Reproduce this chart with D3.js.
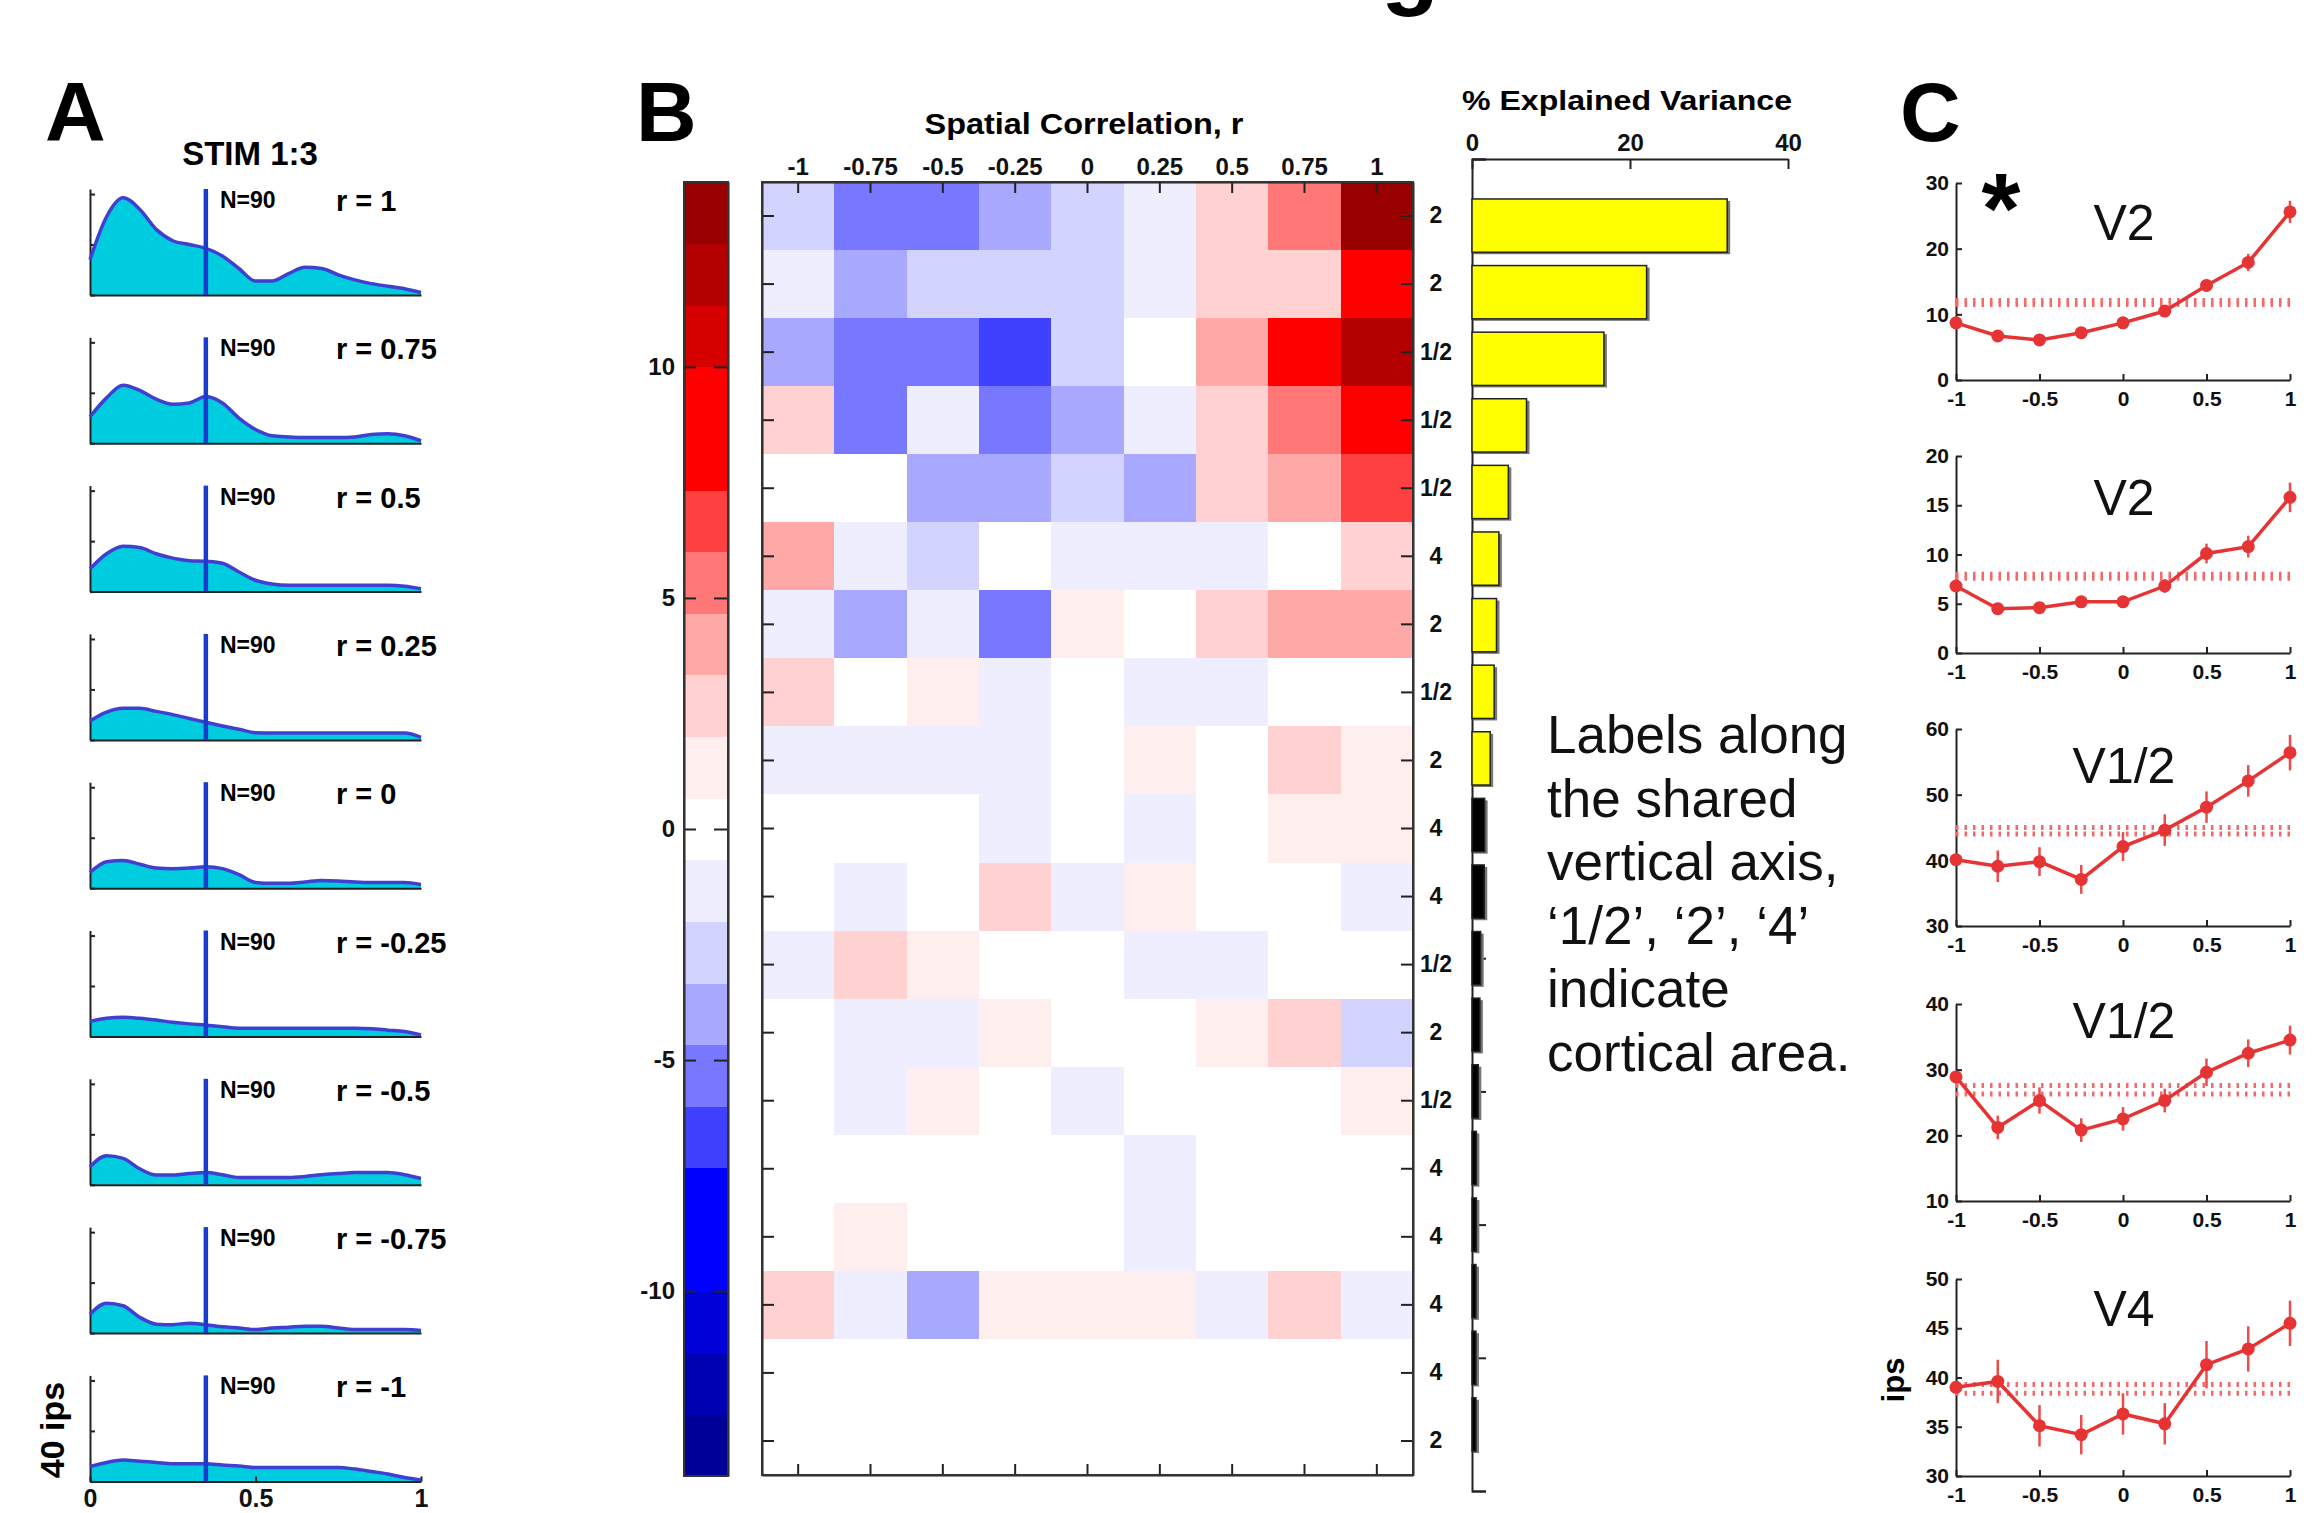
<!DOCTYPE html>
<html>
<head>
<meta charset="utf-8">
<script src="https://cdn.jsdelivr.net/npm/d3@7"></script>
<style>
body { margin: 0; background: #fff; }
svg { display: block; font-family: "Liberation Sans", Arial, sans-serif; }
</style>
</head>
<body>
<div id="fig"></div>
<script>
// ---------- panel A : firing-rate densities for each spatial correlation ----------
var densityX = [0, 0.05, 0.1, 0.15, 0.2, 0.25, 0.3, 0.35, 0.4, 0.45, 0.5, 0.55, 0.6, 0.65, 0.7, 0.75, 0.8, 0.85, 0.9, 0.95, 1];
var dens_r100  = [28, 62, 77, 68, 52, 43, 40, 37, 31, 21, 11, 11, 17, 22, 21, 16, 12, 9, 7, 5, 2];
var dens_r075  = [21, 36, 46, 42, 35, 31, 32, 37, 32, 20, 11, 6, 5, 4.5, 4.5, 4.5, 5, 7, 7.5, 6, 2];
var dens_r050  = [18, 30, 36, 35, 30, 26.5, 24.5, 24, 22.5, 15.5, 9, 6, 5, 5, 5, 5, 5, 5, 5, 4.3, 2.3];
var dens_r025  = [15, 22, 25, 25, 22.6, 20, 17, 14, 11, 8.4, 5.7, 5.4, 5.4, 5.4, 5.4, 5.4, 5.4, 5.4, 5.4, 5.4, 2];
var dens_r000  = [12.4, 21, 22, 19, 16, 15.5, 16, 17, 15.5, 10.8, 4.6, 3.9, 3.9, 5, 6.2, 5.8, 5, 4.6, 4.6, 4.6, 3];
var dens_rm025 = [12, 14.4, 15.2, 14.4, 13, 11.3, 10, 9, 7.8, 6.6, 6.6, 6.6, 6.6, 6.6, 6.6, 6.6, 6.6, 6.2, 5, 3.9, 1.2];
var dens_rm050 = [14.3, 23, 21, 12.7, 7.7, 7.7, 8.9, 9.7, 8, 5.8, 5.8, 5.8, 5.8, 6.6, 8, 8.9, 9.7, 9.7, 9.7, 8, 5];
var dens_rm075 = [15, 23.7, 21.7, 12.6, 7.1, 6.7, 7.9, 6.7, 5, 4, 2.8, 4, 4.7, 5.5, 5.5, 4, 2.8, 2.8, 2.8, 2.8, 2];
var dens_rm100 = [11.8, 15, 17, 16, 15, 14, 14, 14, 13, 12.2, 11, 11, 11, 11, 11, 11, 9.8, 7.9, 5.9, 3.1, 1.2];
var densities = [dens_r100, dens_r075, dens_r050, dens_r025, dens_r000, dens_rm025, dens_rm050, dens_rm075, dens_rm100];
var densLabels = ["r = 1", "r = 0.75", "r = 0.5", "r = 0.25", "r = 0", "r = -0.25", "r = -0.5", "r = -0.75", "r = -1"];
var densN = "N=90";
var medianMark = 0.35;
var densYTicks = [0, 40, 80];
var densXTicks = [0, 0.5, 1];
var densXTickLabels = ["0", "0.5", "1"];

// ---------- panel B : heat map + explained variance ----------
var corrR = [-1, -0.75, -0.5, -0.25, 0, 0.25, 0.5, 0.75, 1];
var corrLabels = ["-1", "-0.75", "-0.5", "-0.25", "0", "0.25", "0.5", "0.75", "1"];
var rowAreas = ["2", "2", "1/2", "1/2", "1/2", "4", "2", "1/2", "2", "4", "4", "1/2", "2", "1/2", "4", "4", "4", "4", "2"];
var heatRows = [
  [-2.7, -5.4, -5.2, -4.1, -2.6, -1.2, 2.6, 5.3, 13.4],
  [-1.1, -4.0, -2.8, -2.5, -2.7, -1.3, 2.5, 2.7, 9.1],
  [-3.9, -5.3, -5.5, -6.8, -2.6, 0.2, 4.1, 9.0, 12.1],
  [2.6, -5.4, -1.2, -5.6, -3.9, -1.1, 2.7, 5.4, 8.8],
  [0.1, -0.2, -4.0, -4.1, -2.7, -3.8, 2.6, 4.0, 6.6],
  [4.0, -1.2, -2.6, 0.3, -1.1, -1.3, -1.0, 0.1, 2.5],
  [-1.1, -3.9, -1.2, -5.5, 1.1, 0.2, 2.7, 4.1, 3.9],
  [2.6, 0.1, 1.2, -1.0, 0.0, -1.2, -1.1, 0.2, -0.1],
  [-1.2, -1.1, -1.3, -1.0, 0.2, 1.1, 0.3, 2.6, 1.2],
  [0.1, -0.2, 0.3, -1.2, 0.0, -1.1, 0.2, 1.1, 1.3],
  [-0.1, -1.0, 0.2, 2.6, -1.3, 1.2, 0.1, -0.3, -1.1],
  [-1.2, 2.7, 1.1, 0.2, -0.1, -1.0, -1.2, 0.3, 0.1],
  [0.2, -1.1, -1.2, 1.0, 0.1, -0.2, 1.1, 2.6, -2.6],
  [0.0, -1.3, 1.2, 0.4, -1.1, 0.1, -0.2, 0.3, 1.0],
  [0.1, 0.2, -0.3, 0.0, 0.2, -1.1, 0.4, -0.2, 0.3],
  [-0.2, 1.2, 0.1, -0.1, 0.3, -1.0, 0.2, 0.0, -0.4],
  [2.7, -1.2, -3.9, 1.1, 1.2, 1.0, -1.1, 2.6, -1.2],
  [0.1, -0.2, 0.3, 0.0, -0.1, 0.2, -0.3, 0.1, 0.0],
  [0.0, 0.2, -0.1, 0.3, 0.1, -0.2, 0.0, -0.4, 0.2]
];
var cbarColors = ["#000099", "#0000b3", "#0000d9", "#0000ff", "#0000ff", "#4040ff", "#7777ff", "#a8a8ff",
  "#d3d3ff", "#eeeeff", "#ffffff", "#ffeeee", "#ffd1d1", "#ffa8a8", "#ff7777", "#ff4040", "#ff0000",
  "#ff0000", "#d60000", "#b30000", "#990000"];
var cbarRange = [-14, 14];
var cbarTicks = [-10, -5, 0, 5, 10];
var explainedVar = [32.3, 22.1, 16.7, 6.9, 4.6, 3.4, 3.1, 2.8, 2.3, 1.6, 1.55, 1.1, 1.0, 0.8, 0.55, 0.55, 0.5, 0.5, 0.5];
var varSignificant = [true, true, true, true, true, true, true, true, true,
  false, false, false, false, false, false, false, false, false, false];
var varTicks = [0, 20, 40];
var noteLines = ["Labels along", "the shared", "vertical axis,", "\u20181/2\u2019, \u20182\u2019, \u20184\u2019", "indicate", "cortical area."];

// ---------- panel C : tuning curves ----------
var tuneX = [-1, -0.75, -0.5, -0.25, 0, 0.25, 0.5, 0.75, 1];
var tuneTitles = ["V2", "V2", "V1/2", "V1/2", "V4"];
var tune_v2a  = [8.7, 6.7, 6.1, 7.2, 8.7, 10.5, 14.4, 17.9, 25.6];
var tune_v2b  = [6.8, 4.5, 4.6, 5.2, 5.2, 6.8, 10.1, 10.8, 15.8];
var tune_v12a = [40.1, 39.1, 39.8, 37.1, 42.1, 44.6, 48.1, 52.1, 56.4];
var tune_v12b = [28.9, 21.2, 25.3, 20.8, 22.5, 25.3, 29.6, 32.5, 34.5];
var tune_v4   = [39.0, 39.6, 35.1, 34.2, 36.3, 35.3, 41.3, 42.9, 45.5];
var err_v2a  = [0.6, 0.6, 0.5, 0.6, 0.6, 0.7, 0.9, 1.3, 1.7];
var err_v2b  = [0.5, 0.5, 0.5, 0.5, 0.5, 0.7, 1.0, 1.1, 1.5];
var err_v12a = [0.8, 2.4, 2.2, 2.2, 2.2, 2.4, 2.4, 2.4, 2.7];
var err_v12b = [0.8, 1.8, 2.0, 1.8, 1.8, 1.8, 2.1, 2.1, 2.2];
var err_v4   = [0.5, 2.2, 2.1, 2.0, 2.1, 2.1, 2.4, 2.3, 2.3];
var shuffleBand = [[11.5, 12.1], [7.6, 8.0], [44.0, 45.0], [26.3, 27.6], [38.4, 39.3]];
var tuneDomains = [[0, 30], [0, 20], [30, 60], [10, 40], [30, 50]];
var tuneYTicks = [[0, 10, 20, 30], [0, 5, 10, 15, 20], [30, 40, 50, 60], [10, 20, 30, 40], [30, 35, 40, 45, 50]];
var tuneXTicks = [-1, -0.5, 0, 0.5, 1];
var tuneXTickLabels = ["-1", "-0.5", "0", "0.5", "1"];
var tuneMeans = [tune_v2a, tune_v2b, tune_v12a, tune_v12b, tune_v4];
var tuneErrs = [err_v2a, err_v2b, err_v12a, err_v12b, err_v4];

var W = 2315, H = 1513;
var svg = d3.select("#fig").append("svg").attr("width", W).attr("height", H);
svg.append("rect").attr("width", W).attr("height", H).attr("fill", "#fff");

function styleAxis(g, size) {
  g.attr("font-family", null).attr("font-size", size).attr("font-weight", "bold");
  g.selectAll("path, line").attr("stroke", "#222").attr("stroke-width", 2);
  g.selectAll("text").attr("fill", "#111");
  return g;
}

// cut-off figure title at the very top
svg.append("text").attr("x", 1410).attr("y", -3).attr("text-anchor", "middle")
  .attr("font-size", 95).attr("font-weight", "bold").text("g");

// panel letters
[["A", 45], ["B", 636], ["C", 1900]].forEach(function (p) {
  svg.append("text").attr("x", p[1]).attr("y", 141).attr("font-size", 84)
    .attr("font-weight", "bold").text(p[0]);
});

// ================= panel A =================
var aLeft = 90, aRight = 421, aTop0 = 189, aStep = 148.3, aH = 106;
var xA = d3.scaleLinear().domain([0, 1]).range([aLeft, aRight]);

svg.append("text").attr("x", 250).attr("y", 165).attr("text-anchor", "middle")
  .attr("font-size", 33).attr("font-weight", "bold").text("STIM 1:3");

densities.forEach(function (vals, i) {
  var top = aTop0 + i * aStep;
  var yA = d3.scaleLinear().domain([0, 84]).range([top + aH, top]);
  var g = svg.append("g");
  var pts = densityX.map(function (x, j) { return [x, vals[j]]; });

  g.append("path")
    .attr("d", d3.area().x(function (d) { return xA(d[0]); }).y0(yA(0))
      .y1(function (d) { return yA(d[1]); }).curve(d3.curveMonotoneX)(pts))
    .attr("fill", "#00cce0");

  styleAxis(g.append("g").attr("transform", "translate(" + aLeft + ",0)")
    .call(d3.axisLeft(yA).tickValues(densYTicks).tickSize(-5).tickSizeOuter(0).tickFormat("")), 10);
  var bottom = g.append("g").attr("transform", "translate(0," + (top + aH) + ")");
  if (i == densities.length - 1) {
    bottom.call(d3.axisBottom(xA).tickValues(densXTicks).tickSize(-5).tickSizeOuter(0).tickPadding(8)
      .tickFormat(function (d, k) { return densXTickLabels[k]; }));
    styleAxis(bottom, 25);
  } else {
    bottom.call(d3.axisBottom(xA).tickValues([]).tickSizeOuter(0));
    styleAxis(bottom, 10);
  }

  g.append("path")
    .attr("d", d3.line().x(function (d) { return xA(d[0]); }).y(function (d) { return yA(d[1]); })
      .curve(d3.curveMonotoneX)(pts))
    .attr("fill", "none").attr("stroke", "#3f3fd0").attr("stroke-width", 3.5);

  g.append("line").attr("x1", xA(medianMark)).attr("x2", xA(medianMark))
    .attr("y1", top).attr("y2", top + aH)
    .attr("stroke", "#1a3ccc").attr("stroke-width", 4.5);

  g.append("text").attr("x", 220).attr("y", top + 19).attr("font-size", 23)
    .attr("font-weight", "bold").text(densN);
  g.append("text").attr("x", 336).attr("y", top + 22).attr("font-size", 29)
    .attr("font-weight", "bold").text(densLabels[i]);
});

svg.append("text").attr("transform", "translate(64,1430) rotate(-90)")
  .attr("text-anchor", "middle").attr("font-size", 34).attr("font-weight", "bold").text("40 ips");

// ================= panel B : colour bar =================
var cbL = 684, cbR = 728, cbT = 182, cbB = 1476;
var yC = d3.scaleLinear().domain(cbarRange).range([cbB, cbT]);
var binW = (cbarRange[1] - cbarRange[0]) / cbarColors.length;
var colour = d3.scaleQuantize().domain(cbarRange).range(cbarColors);

svg.append("g").selectAll("rect").data(cbarColors).enter().append("rect")
  .attr("x", cbL).attr("width", cbR - cbL)
  .attr("y", function (d, k) { return yC(cbarRange[0] + (k + 1) * binW); })
  .attr("height", function (d, k) { return yC(cbarRange[0] + k * binW) - yC(cbarRange[0] + (k + 1) * binW) + 0.5; })
  .attr("fill", function (d) { return d; })
  .attr("shape-rendering", "crispEdges");
styleAxis(svg.append("g").attr("transform", "translate(" + cbL + ",0)")
  .call(d3.axisLeft(yC).tickValues(cbarTicks).tickSize(-12).tickSizeOuter(0).tickPadding(9)
    .tickFormat(function (d) { return String(d); })), 24);
styleAxis(svg.append("g").attr("transform", "translate(" + cbR + ",0)")
  .call(d3.axisRight(yC).tickValues(cbarTicks).tickSize(-14).tickSizeOuter(0).tickFormat("")), 10);
svg.append("rect").attr("x", cbL).attr("y", cbT).attr("width", cbR - cbL).attr("height", cbB - cbT)
  .attr("fill", "none").attr("stroke", "#333").attr("stroke-width", 2);

// ================= panel B : heat map =================
var hL = 762, hR = 1413, hT = 182, hB = 1475;
var xB = d3.scaleBand().domain(corrR).range([hL, hR]);
var yB = d3.scaleBand().domain(rowAreas.map(function (d, i) { return i; })).range([hT, hB]);

var cells = [];
heatRows.forEach(function (row, i) {
  row.forEach(function (v, j) { cells.push({ row: i, r: corrR[j], v: v }); });
});
svg.append("g").selectAll("rect").data(cells).enter().append("rect")
  .attr("x", function (d) { return xB(d.r); }).attr("y", function (d) { return yB(d.row); })
  .attr("width", xB.bandwidth() + 0.6).attr("height", yB.bandwidth() + 0.6)
  .attr("fill", function (d) { return colour(d.v); })
  .attr("shape-rendering", "crispEdges");

styleAxis(svg.append("g").attr("transform", "translate(0," + hT + ")")
  .call(d3.axisTop(xB).tickSize(-11).tickSizeOuter(0).tickPadding(7)
    .tickFormat(function (d, k) { return corrLabels[k]; })), 24);
styleAxis(svg.append("g").attr("transform", "translate(0," + hB + ")")
  .call(d3.axisBottom(xB).tickSize(-11).tickSizeOuter(0).tickFormat("")), 10);
styleAxis(svg.append("g").attr("transform", "translate(" + hL + ",0)")
  .call(d3.axisLeft(yB).tickSize(-12).tickSizeOuter(0).tickFormat("")), 10);
var rightAx = styleAxis(svg.append("g").attr("transform", "translate(" + hR + ",0)")
  .call(d3.axisRight(yB).tickSize(-12).tickSizeOuter(0).tickFormat(function (i) { return rowAreas[i]; })), 23);
rightAx.selectAll("text").attr("x", 23).attr("text-anchor", "middle");
svg.append("rect").attr("x", hL).attr("y", hT).attr("width", hR - hL).attr("height", hB - hT)
  .attr("fill", "none").attr("stroke", "#333").attr("stroke-width", 2);

svg.append("text").attr("x", 1084).attr("y", 134).attr("text-anchor", "middle")
  .attr("font-size", 30).attr("font-weight", "bold")
  .attr("textLength", 319).attr("lengthAdjust", "spacingAndGlyphs")
  .text("Spatial Correlation, r");

// ================= panel B : explained variance =================
var vL = 1472, vT = 159, vB = 1491;
var xV = d3.scaleLinear().domain([0, 40]).range([vL, 1788]);
var yV = d3.scaleLinear().domain([0, explainedVar.length + 1]).range([vT, vB]);
var barH = (yV(1) - yV(0)) * 0.8;

styleAxis(svg.append("g").attr("transform", "translate(" + vL + ",0)")
  .call(d3.axisLeft(yV).tickValues(d3.range(0, explainedVar.length + 2, 2)).tickSize(-14).tickSizeOuter(-14).tickFormat("")), 10);
styleAxis(svg.append("g").attr("transform", "translate(0," + vT + ")")
  .call(d3.axisTop(xV).tickValues(varTicks).tickSize(-10).tickSizeOuter(0).tickPadding(8)
    .tickFormat(function (d) { return String(d); })), 24);

var bars = svg.append("g").selectAll("g").data(explainedVar).enter().append("g");
bars.append("rect")
  .attr("x", vL + 1).attr("y", function (d, i) { return yV(i + 1) - barH / 2 + 2; })
  .attr("width", function (d) { return xV(d) - vL + 2; }).attr("height", barH)
  .attr("fill", "#777");
bars.append("rect")
  .attr("x", vL).attr("y", function (d, i) { return yV(i + 1) - barH / 2; })
  .attr("width", function (d) { return xV(d) - vL; }).attr("height", barH)
  .attr("fill", function (d, i) { return varSignificant[i] ? "#ffff00" : "#000"; })
  .attr("stroke", "#222").attr("stroke-width", 1.5);

svg.append("text").attr("x", 1627).attr("y", 110).attr("text-anchor", "middle")
  .attr("font-size", 28).attr("font-weight", "bold")
  .attr("textLength", 330).attr("lengthAdjust", "spacingAndGlyphs")
  .text("% Explained Variance");

svg.append("g").selectAll("text").data(noteLines).enter().append("text")
  .attr("x", 1547).attr("y", function (d, i) { return 753 + i * 63.5; })
  .attr("font-size", 53).attr("fill", "#111").text(function (d) { return d; });

// ================= panel C =================
var xCt = d3.scaleLinear().domain([-1, 1]).range([1956, 2290]);
var cTops = [183, 456, 729, 1004, 1279];
var cH = 197;
var titleDy = [57, 59, 54, 34, 47];

tuneMeans.forEach(function (vals, p) {
  var top = cTops[p];
  var yT = d3.scaleLinear().domain(tuneDomains[p]).range([top + cH, top]);
  var g = svg.append("g");

  styleAxis(g.append("g").attr("transform", "translate(" + xCt(-1) + ",0)")
    .call(d3.axisLeft(yT).tickValues(tuneYTicks[p]).tickSize(-6).tickSizeOuter(0).tickPadding(7)
      .tickFormat(function (d) { return String(d); })), 21);
  styleAxis(g.append("g").attr("transform", "translate(0," + (top + cH) + ")")
    .call(d3.axisBottom(xCt).tickValues(tuneXTicks).tickSize(-6).tickSizeOuter(0).tickPadding(11)
      .tickFormat(function (d, k) { return tuneXTickLabels[k]; })), 21);

  shuffleBand[p].forEach(function (b) {
    g.append("line").attr("x1", xCt(-1)).attr("x2", xCt(1)).attr("y1", yT(b)).attr("y2", yT(b))
      .attr("stroke", "#f26a6a").attr("stroke-width", 5).attr("stroke-dasharray", "2.5,6");
  });

  g.selectAll(".eb").data(vals).enter().append("line")
    .attr("x1", function (d, k) { return xCt(tuneX[k]); }).attr("x2", function (d, k) { return xCt(tuneX[k]); })
    .attr("y1", function (d, k) { return yT(d - tuneErrs[p][k]); })
    .attr("y2", function (d, k) { return yT(d + tuneErrs[p][k]); })
    .attr("stroke", "#ee4b4b").attr("stroke-width", 2.5);

  g.append("path")
    .attr("d", d3.line().x(function (d, k) { return xCt(tuneX[k]); }).y(function (d) { return yT(d); })(vals))
    .attr("fill", "none").attr("stroke", "#e63434").attr("stroke-width", 3.5);
  g.selectAll("circle").data(vals).enter().append("circle")
    .attr("cx", function (d, k) { return xCt(tuneX[k]); }).attr("cy", function (d) { return yT(d); })
    .attr("r", 6.5).attr("fill", "#e63434");

  g.append("text").attr("x", 2124).attr("y", top + titleDy[p]).attr("text-anchor", "middle")
    .attr("font-size", 50).attr("fill", "#111").text(tuneTitles[p]);
});

svg.append("text").attr("x", 2001).attr("y", 243).attr("text-anchor", "middle")
  .attr("font-size", 100).attr("font-weight", "bold").text("*");
svg.append("text").attr("transform", "translate(1904,1380) rotate(-90)")
  .attr("text-anchor", "middle").attr("font-size", 31).attr("font-weight", "bold").text("ips");
</script>
</body>
</html>
